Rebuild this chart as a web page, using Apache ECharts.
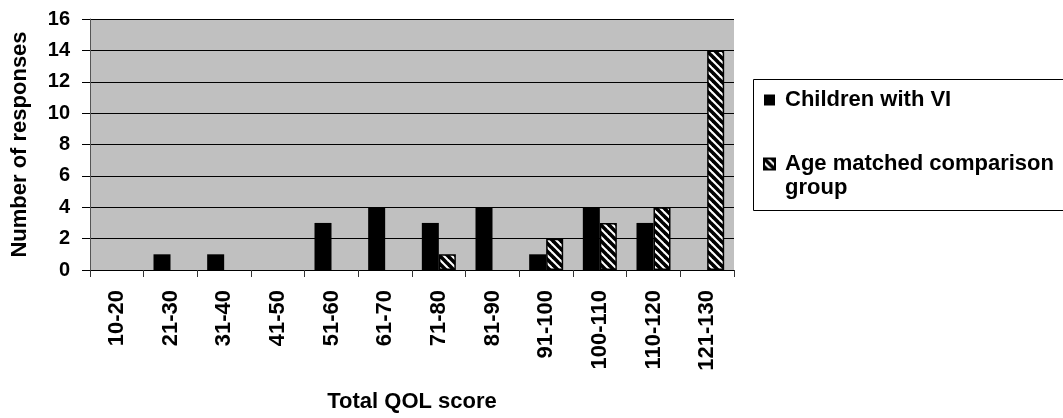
<!DOCTYPE html>
<html>
<head>
<meta charset="utf-8">
<script src="https://cdn.jsdelivr.net/npm/echarts@6/dist/echarts.min.js"></script>
<style>
html,body{margin:0;padding:0;background:#fff;}
#chart{width:1063px;height:418px;}
</style>
</head>
<body>
<div id="chart"></div>
<script>
const categories = ['10-20','21-30','31-40','41-50','51-60','61-70','71-80','81-90','91-100','100-110','110-120','121-130'];
const childrenVI = [0,1,1,0,3,4,3,4,1,4,3,0];
const comparison = [0,0,0,0,0,0,1,0,2,3,4,14];
const yTicks = {min:0, max:16, interval:2};

const FONT = '"Liberation Sans", Arial, sans-serif';
const LH = 24;

function makeHatch(){
  const s = 8;
  const c = document.createElement('canvas');
  c.width = s; c.height = s;
  const ctx = c.getContext('2d');
  ctx.fillStyle = '#fff';
  ctx.fillRect(0,0,s,s);
  ctx.strokeStyle = '#000';
  ctx.lineWidth = 3.6;
  [-s,0,s].forEach(k=>{
    ctx.beginPath();
    ctx.moveTo(-2, k-2);
    ctx.lineTo(s+2, k+s+2);
    ctx.stroke();
  });
  return c;
}
const hatch = makeHatch();
const noZero = arr => arr.map(v => v === 0 ? null : v);

const richT = {fontFamily:FONT, fontWeight:'bold', fontSize:22, color:'#000', lineHeight:LH, padding:[0,0,0,5]};

const chart = echarts.init(document.getElementById('chart'));
chart.setOption({
  backgroundColor:'#fff',
  animation:false,
  grid:{left:90, right:329, top:19, bottom:147.5, show:true, backgroundColor:'#c0c0c0', borderWidth:0},
  graphic:[{
    type:'rect', left:753, top:79, z:-1,
    shape:{width:330, height:131},
    style:{fill:'#fff', stroke:'#000', lineWidth:1}
  }],
  legend:{
    orient:'vertical', left:763, top:88, padding:0,
    itemWidth:11, itemHeight:11, itemGap:16,
    icon:'rect',
    textStyle:{fontFamily:FONT, fontWeight:'bold', fontSize:22, color:'#000', lineHeight:LH, rich:{t:richT}},
    data:[
      {name:'Children with VI'},
      {name:'Age matched comparison group'}
    ],
    formatter:function(n){
      if (n === 'Age matched comparison group') return '{t| }\n{t|Age matched comparison}\n{t|group}';
      return '{t|' + n + '}';
    }
  },
  xAxis:{
    type:'category', data:categories,
    name:'Total QOL score', nameLocation:'middle', nameGap:121,
    nameTextStyle:{fontFamily:FONT, fontWeight:'bold', fontSize:22, color:'#000'},
    axisLine:{show:true, lineStyle:{color:'#000', width:1}},
    axisTick:{show:true, alignWithLabel:false, length:7, lineStyle:{color:'#333'}},
    axisLabel:{rotate:90, margin:20, interval:0, fontFamily:FONT, fontWeight:'bold', fontSize:22, color:'#000'},
    splitLine:{show:false}
  },
  yAxis:{
    type:'value', min:yTicks.min, max:yTicks.max, interval:yTicks.interval,
    name:'Number of responses', nameLocation:'middle', nameGap:59,
    nameTextStyle:{fontFamily:FONT, fontWeight:'bold', fontSize:22, color:'#000'},
    axisLine:{show:true, lineStyle:{color:'#555', width:1}},
    axisTick:{show:true, length:8, lineStyle:{color:'#000'}},
    axisLabel:{margin:20, fontFamily:FONT, fontWeight:'bold', fontSize:20, color:'#000'},
    splitLine:{show:true, lineStyle:{color:'#000', width:1}}
  },
  series:[
    {name:'Children with VI', type:'bar', data:noZero(childrenVI), barWidth:17, barGap:'0%',
     itemStyle:{color:'#000'}},
    {name:'Age matched comparison group', type:'bar', data:noZero(comparison), barWidth:17, barGap:'0%',
     itemStyle:{color:{image:hatch, repeat:'repeat'}, borderColor:'#000', borderWidth:1.5}}
  ]
});
</script>
</body>
</html>
